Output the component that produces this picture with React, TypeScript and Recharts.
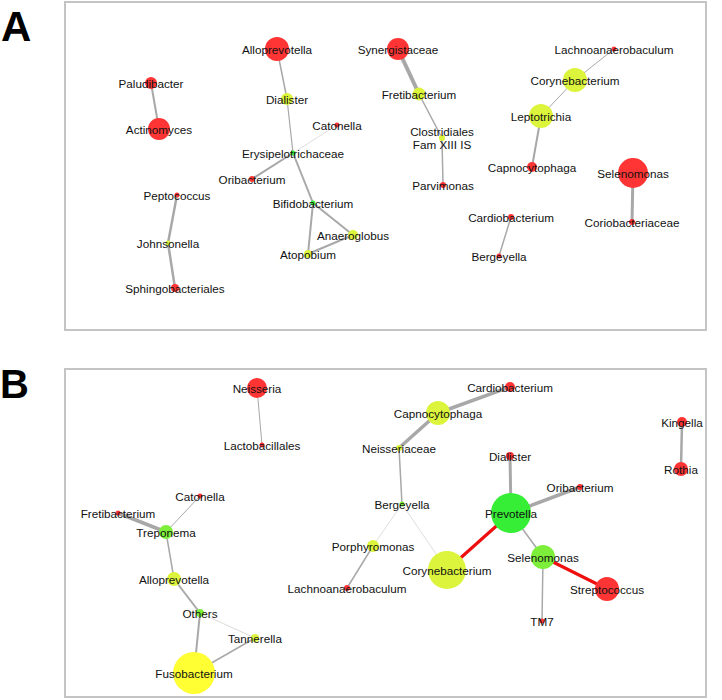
import { ScatterChart, Scatter, XAxis, YAxis } from 'recharts';

// node tuples: name, x, y (layout units inside panel box), abundance (radius), group
type NodeRow = [string, number, number, number, string];
// edge tuples: source, target, weight (negative = red edge)
type EdgeRow = [string, string, number];

const nodesA: NodeRow[] = [
  ['Alloprevotella', 213, 48, 12, 'red'],
  ['Paludibacter', 87, 82, 6, 'red'],
  ['Actinomyces', 95, 128, 11, 'red'],
  ['Dialister', 223, 98, 6, 'yg'],
  ['Catonella', 273, 124, 2.5, 'red'],
  ['Erysipelotrichaceae', 229, 152, 2.5, 'green'],
  ['Synergistaceae', 334, 48, 11, 'red'],
  ['Fretibacterium', 355, 93, 6.5, 'yg'],
  ['Clostridiales\nFam XIII IS', 378, 137, 3, 'yg'],
  ['Lachnoanaerobaculum', 550, 48, 2.5, 'red'],
  ['Corynebacterium', 511, 79, 12, 'yg'],
  ['Leptotrichia', 477, 115, 12, 'yg'],
  ['Capnocytophaga', 468, 166, 5, 'red'],
  ['Selenomonas', 569, 172, 15, 'red'],
  ['Parvimonas', 379, 184, 3, 'red'],
  ['Cardiobacterium', 447, 216, 3, 'red'],
  ['Coriobacteriaceae', 568, 221, 3, 'red'],
  ['Bergeyella', 435, 255, 2.5, 'red'],
  ['Oribacterium', 188, 178, 3, 'red'],
  ['Peptococcus', 113, 194, 2.5, 'red'],
  ['Bifidobacterium', 249, 202, 2.5, 'green'],
  ['Johnsonella', 104, 242, 2.5, 'yg'],
  ['Anaeroglobus', 289, 234, 5, 'yg'],
  ['Atopobium', 244, 253, 4, 'yg'],
  ['Sphingobacteriales', 111, 287, 4, 'red'],
];

const edgesA: EdgeRow[] = [
  ['Paludibacter', 'Actinomyces', 2],
  ['Alloprevotella', 'Dialister', 1.5],
  ['Dialister', 'Erysipelotrichaceae', 1.2],
  ['Catonella', 'Erysipelotrichaceae', 0.6],
  ['Erysipelotrichaceae', 'Oribacterium', 2],
  ['Erysipelotrichaceae', 'Bifidobacterium', 2],
  ['Bifidobacterium', 'Atopobium', 2],
  ['Bifidobacterium', 'Anaeroglobus', 2],
  ['Atopobium', 'Anaeroglobus', 2],
  ['Synergistaceae', 'Fretibacterium', 4],
  ['Fretibacterium', 'Clostridiales\nFam XIII IS', 1.5],
  ['Clostridiales\nFam XIII IS', 'Parvimonas', 1.5],
  ['Lachnoanaerobaculum', 'Corynebacterium', 1],
  ['Corynebacterium', 'Leptotrichia', 1],
  ['Leptotrichia', 'Capnocytophaga', 2],
  ['Selenomonas', 'Coriobacteriaceae', 3],
  ['Cardiobacterium', 'Bergeyella', 1.5],
  ['Peptococcus', 'Johnsonella', 2.5],
  ['Johnsonella', 'Sphingobacteriales', 2.5],
];

const nodesB: NodeRow[] = [
  ['Neisseria', 193, 20, 10, 'red'],
  ['Lactobacillales', 198, 77, 2.5, 'red'],
  ['Catonella', 136, 128, 2.5, 'red'],
  ['Fretibacterium', 54, 145, 2.5, 'red'],
  ['Treponema', 102, 164, 7, 'lime'],
  ['Alloprevotella', 110, 211, 7, 'yg'],
  ['Others', 136, 245, 4, 'lime'],
  ['Tannerella', 191, 270, 4, 'yg'],
  ['Fusobacterium', 130, 305, 21, 'yellow'],
  ['Cardiobacterium', 446, 19, 5, 'red'],
  ['Capnocytophaga', 374, 45, 12, 'yg'],
  ['Neisseriaceae', 335, 80, 3, 'yg'],
  ['Bergeyella', 338, 136, 2.5, 'lime'],
  ['Dialister', 446, 88, 4, 'red'],
  ['Prevotella', 447, 145, 20, 'green'],
  ['Oribacterium', 516, 119, 3, 'red'],
  ['Kingella', 618, 54, 5, 'red'],
  ['Rothia', 617, 101, 7, 'red'],
  ['Porphyromonas', 309, 178, 6, 'yg'],
  ['Lachnoanaerobaculum', 283, 220, 3, 'red'],
  ['Corynebacterium', 383, 202, 19, 'yg'],
  ['Selenomonas', 479, 189, 12, 'lime'],
  ['Streptococcus', 543, 221, 12, 'red'],
  ['TM7', 478, 253, 2.5, 'red'],
];

const edgesB: EdgeRow[] = [
  ['Neisseria', 'Lactobacillales', 1],
  ['Catonella', 'Treponema', 1],
  ['Fretibacterium', 'Treponema', 3.5],
  ['Treponema', 'Alloprevotella', 1.5],
  ['Alloprevotella', 'Others', 2],
  ['Others', 'Fusobacterium', 2],
  ['Others', 'Tannerella', 0.7],
  ['Tannerella', 'Fusobacterium', 1.5],
  ['Cardiobacterium', 'Capnocytophaga', 3.5],
  ['Capnocytophaga', 'Neisseriaceae', 3.5],
  ['Neisseriaceae', 'Bergeyella', 1.5],
  ['Bergeyella', 'Porphyromonas', 0.6],
  ['Bergeyella', 'Corynebacterium', 0.6],
  ['Porphyromonas', 'Lachnoanaerobaculum', 1.5],
  ['Corynebacterium', 'Prevotella', -3.2],
  ['Prevotella', 'Dialister', 3],
  ['Prevotella', 'Oribacterium', 3.5],
  ['Prevotella', 'Selenomonas', 1.5],
  ['Selenomonas', 'Streptococcus', -3.2],
  ['Selenomonas', 'TM7', 1.5],
  ['Kingella', 'Rothia', 2.5],
];

const GROUP_COLORS: Record<string, string> = {
  red: '#ff3535',
  yg: '#dcf53c',
  yellow: '#ffff33',
  lime: '#7def3a',
  green: '#36ee36',
};

const FONT = '"Liberation Sans", Arial, Helvetica, sans-serif';

const NodeShape = (props: any) => {
  const { cx, cy, payload } = props;
  const lines: string[] = payload.name.split('\n');
  return (
    <g>
      <circle cx={cx} cy={cy} r={payload.r} fill={GROUP_COLORS[payload.group]} />
      <text textAnchor="middle" fontSize={11.7} fontFamily={FONT} fill="#111">
        {lines.map((l, i) => (
          <tspan key={i} x={cx} y={cy + (i - (lines.length - 1) / 2) * 13 + 0.5} dy="0.35em">
            {l}
          </tspan>
        ))}
      </text>
    </g>
  );
};

const W = 643;
const H = 330;

function Network({ nodes, edges }: { nodes: NodeRow[]; edges: EdgeRow[] }) {
  const points = nodes.map(([name, x, y, r, group]) => ({ name, x, y, r, group }));
  const byName: Record<string, { x: number; y: number }> = {};
  points.forEach((p) => (byName[p.name] = p));
  return (
    <ScatterChart width={W} height={H} margin={{ top: 0, right: 0, bottom: 0, left: 0 }}>
      <XAxis type="number" dataKey="x" domain={[0, W]} allowDataOverflow hide />
      <YAxis type="number" dataKey="y" domain={[0, H]} allowDataOverflow reversed hide />
      {edges.map(([s, t, w], i) => (
        <Scatter
          key={'e' + i}
          data={[byName[s], byName[t]]}
          line={{ stroke: w < 0 ? '#ee0f0f' : Math.abs(w) < 0.9 ? '#c8c8c8' : '#a8a8a8', strokeWidth: Math.abs(w) }}
          lineType="joint"
          shape={() => <g />}
          legendType="none"
          isAnimationActive={false}
        />
      ))}
      <Scatter data={points} shape={NodeShape} isAnimationActive={false} />
    </ScatterChart>
  );
}

const boxStyle = (top: number): React.CSSProperties => ({
  position: 'absolute',
  left: 64,
  top,
  width: W,
  height: H,
  boxSizing: 'border-box',
  border: '2px solid #c4c4c4',
  pointerEvents: 'none',
});

const letterStyle = (top: number, left: number, size: number): React.CSSProperties => ({
  position: 'absolute',
  left,
  top,
  fontFamily: FONT,
  fontWeight: 'bold',
  fontSize: size,
  lineHeight: 1,
  color: '#000',
});

export default function App() {
  return (
    <div style={{ position: 'absolute', left: 0, top: 0, width: 722, height: 700, background: '#fff', overflow: 'hidden' }}>
      <div style={letterStyle(6, 1, 42)}>A</div>
      <div style={letterStyle(364, 0, 40)}>B</div>
      <div style={{ position: 'absolute', left: 64, top: 1 }}>
        <Network nodes={nodesA} edges={edgesA} />
      </div>
      <div style={boxStyle(1)} />
      <div style={{ position: 'absolute', left: 64, top: 368 }}>
        <Network nodes={nodesB} edges={edgesB} />
      </div>
      <div style={boxStyle(368)} />
    </div>
  );
}
